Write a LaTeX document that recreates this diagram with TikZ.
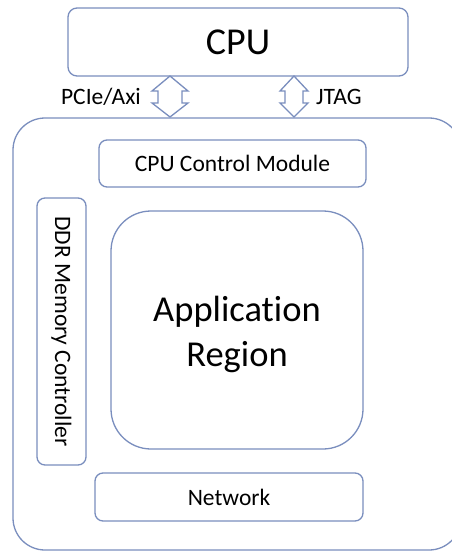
\documentclass[tikz,border=0pt]{standalone}
\usepackage{fontspec}
\setmainfont{Carlito}[Ligatures={NoCommon,NoRare}]
\definecolor{bord}{RGB}{122,142,190}
\begin{document}
\begin{tikzpicture}[x=1pt,y=-1pt,
  blk/.style={draw=bord,line width=1.3pt,rounded corners=#1,inner sep=0pt},
  blk/.default=8pt,
  small/.style={font=\fontsize{23.5}{28}\selectfont},
  arr/.style={draw=bord,line width=1.3pt,fill=white,line join=miter}]
\useasboundingbox (0,0) rectangle (452,551);
\clip (0,0) rectangle (452,551);
\fill[white] (0,0) rectangle (452,551);
% outer board
\node[blk=32pt,minimum width=448pt,minimum height=432pt] (board) at (237,334) {};
% CPU
\node[blk=9pt,minimum width=340pt,minimum height=68pt,font=\fontsize{38}{44}\selectfont] (cpu) at (238,42) {CPU};
% arrows
\draw[arr] (170,76) -- (188,91) -- (182,91) -- (182,103) -- (188,103) -- (170,117)
  -- (152,103) -- (158,103) -- (158,91) -- (152,91) -- cycle;
\draw[arr] (294,76) -- (308,91) -- (303,91) -- (303,103) -- (308,103) -- (294,117)
  -- (280,103) -- (285,103) -- (285,91) -- (280,91) -- cycle;
\node[small,anchor=east,inner sep=0pt] (pcie) at (141,97) {PCIe/Axi};
\node[small,anchor=west,inner sep=0pt] (jtag) at (316,97) {JTAG};
% inner blocks
\node[blk,minimum width=267pt,minimum height=47pt,small] (ctrl) at (232.5,163.5) {CPU Control Module};
\node[blk,minimum width=49pt,minimum height=267pt] (ddr) at (61.5,331.5) {};
\node[small,rotate=-90] (ddrtext) at (ddr.center) {DDR Memory Controller};
\node[blk=40pt,minimum width=252pt,minimum height=238pt] (app) at (237,330) {};
\node[align=center,font=\fontsize{36.5}{45}\selectfont] (apptext) at (237,334) {Application\\Region};
\node[blk,minimum width=268pt,minimum height=48pt,small] (net) at (229,497) {Network};
\end{tikzpicture}
\end{document}
